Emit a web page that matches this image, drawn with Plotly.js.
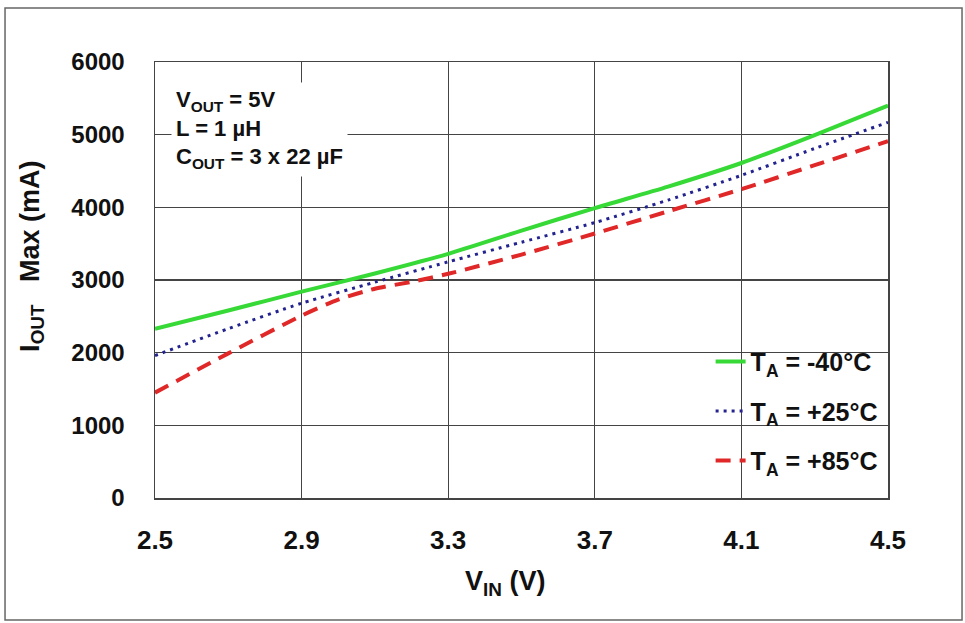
<!DOCTYPE html>
<html>
<head>
<meta charset="utf-8">
<script src="https://cdn.plot.ly/plotly-3.0.1.min.js"></script>
<style>html,body{margin:0;padding:0;background:#fff;}#chart{width:965px;height:623px;}</style>
</head>
<body>
<div id="chart"></div>
<script>
// Data
var vinGreen = [2.5, 2.7, 2.9, 3.1, 3.3, 3.5, 3.7, 3.9, 4.1, 4.3, 4.5];
var ioutM40 = [2330, 2580, 2840, 3090, 3360, 3680, 3990, 4285, 4610, 4995, 5400];

var vinBlue = [2.5, 2.7, 2.9, 3.1, 3.3, 3.5, 3.7, 3.9, 4.1, 4.3, 4.5];
var ioutP25 = [1960, 2330, 2680, 2970, 3250, 3520, 3790, 4100, 4440, 4810, 5170];

var vinRed = [2.5, 2.7, 2.9, 3.0, 3.1, 3.2, 3.3, 3.5, 3.7, 3.9, 4.1, 4.3, 4.5];
var ioutP85 = [1450, 1990, 2510, 2730, 2880, 2975, 3085, 3350, 3640, 3945, 4250, 4580, 4910];

var seriesNames = ["T<sub>A</sub> = -40°C", "T<sub>A</sub> = +25°C", "T<sub>A</sub> = +85°C"];
var xTicks = [2.5, 2.9, 3.3, 3.7, 4.1, 4.5];
var xTickText = ["2.5", "2.9", "3.3", "3.7", "4.1", "4.5"];
var yTicks = [0, 1000, 2000, 3000, 4000, 5000, 6000];
var noteLines = ["V<sub>OUT</sub> = 5V", "L = 1 µH", "C<sub>OUT</sub> = 3 x 22 µF"];
var xTitle = "V<sub>IN</sub> (V)";
var yTitle = "I<sub>OUT</sub>   Max (mA)";

var FONT = 'Liberation Sans, Arial, sans-serif';

var traces = [
  {x: vinGreen, y: ioutM40, name: seriesNames[0], mode: 'lines', legendgroup: 'a',
   line: {color: '#36d936', width: 4, shape: 'spline', smoothing: 0.7}},
  {x: vinBlue, y: ioutP25, name: seriesNames[1], mode: 'lines', legendgroup: 'b',
   line: {color: '#23238f', width: 3, dash: '3px,5px', shape: 'spline', smoothing: 0.7}},
  {x: vinRed, y: ioutP85, name: seriesNames[2], mode: 'lines', legendgroup: 'c',
   line: {color: '#e02828', width: 4, dash: '15px,9px', shape: 'spline', smoothing: 0.7}}
];

var layout = {
  width: 965, height: 623,
  margin: {l: 155, r: 77, t: 62, b: 125},
  paper_bgcolor: '#ffffff', plot_bgcolor: '#ffffff',
  font: {family: FONT, color: '#111', size: 22},
  showlegend: true,
  legend: {
    x: 0.758, y: 0.365, xanchor: 'left', yanchor: 'top',
    bgcolor: 'rgba(0,0,0,0)', borderwidth: 0,
    traceorder: 'grouped', tracegroupgap: 14,
    font: {family: FONT, size: 25, color: '#111', weight: 'bold'}
  },
  xaxis: {
    range: [2.5, 4.5], tickvals: xTicks, ticktext: xTickText,
    showgrid: true, gridcolor: '#444', gridwidth: 1.3,
    showline: true, linecolor: '#444', linewidth: 1.5, mirror: true,
    ticks: '', zeroline: false, ticklabelstandoff: 18,
    tickfont: {family: FONT, size: 26, color: '#111', weight: 'bold'}
  },
  yaxis: {
    range: [0, 6000], tickvals: yTicks,
    showgrid: true, gridcolor: '#444', gridwidth: 1.3,
    showline: true, linecolor: '#444', linewidth: 1.5, mirror: true,
    ticks: '', zeroline: false, ticklabelstandoff: 24,
    tickfont: {family: FONT, size: 24, color: '#111', weight: 'bold'}
  },
  annotations: [{
    xref: 'paper', yref: 'paper', x: 0.022, y: 0.955, xanchor: 'left', yanchor: 'top',
    text: noteLines.join('<br>'), align: 'left', showarrow: false,
    bgcolor: '#ffffff', borderpad: 4,
    font: {family: FONT, size: 22, color: '#111', weight: 'bold'}
  }, {
    xref: 'paper', yref: 'paper', x: 0.4775, y: -0.195, xanchor: 'center', yanchor: 'middle',
    text: xTitle, showarrow: false,
    font: {family: FONT, size: 27, color: '#111', weight: 'bold'}
  }, {
    xref: 'paper', yref: 'paper', x: -0.168, y: 0.555, xanchor: 'center', yanchor: 'middle',
    text: yTitle, showarrow: false, textangle: -90,
    font: {family: FONT, size: 27, color: '#111', weight: 'bold'}
  }],
  shapes: [{
    type: 'rect', xref: 'paper', yref: 'paper',
    x0: -0.2046, x1: 1.101, y0: -0.280, y1: 1.124,
    line: {color: '#666', width: 1.5}, fillcolor: 'rgba(0,0,0,0)'
  }]
};

Plotly.newPlot('chart', traces, layout, {displayModeBar: false, staticPlot: true});
</script>
</body>
</html>
